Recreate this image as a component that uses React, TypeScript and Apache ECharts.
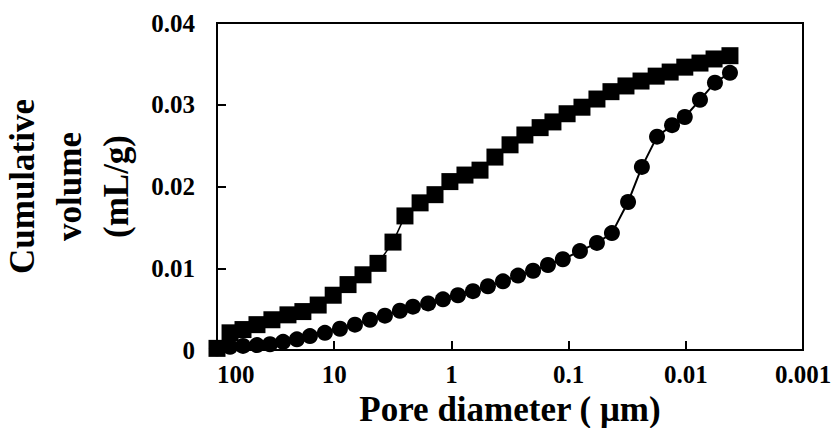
import React, { useEffect, useRef } from "react";
import * as echarts from "echarts";

// Tick labels
const xTickLabels = ["0.001", "0.01", "0.1", "1", "10", "100"];
const yTickLabels = ["0", "0.01", "0.02", "0.03", "0.04"];

// Square series (upper curve)
const sqDiameter = [
  100, 77.4, 60.0, 45.6, 34.0, 24.8, 18.5, 13.7, 10.2, 7.62, 5.68, 4.23, 3.15,
  2.49, 1.85, 1.38, 1.03, 0.766, 0.57, 0.425, 0.316, 0.236, 0.175, 0.136, 0.103,
  0.0769, 0.0573, 0.0435, 0.0324, 0.0241, 0.0179, 0.0136, 0.0102, 0.00757,
  0.00574, 0.0042,
];
const sqVolume = [
  0.0002, 0.0021, 0.0025, 0.0031, 0.0037, 0.0043, 0.0047, 0.0055, 0.0067,
  0.008, 0.0092, 0.0106, 0.0132, 0.0164, 0.018, 0.019, 0.0206, 0.0214, 0.022,
  0.0236, 0.0251, 0.0263, 0.0272, 0.0279, 0.0289, 0.0297, 0.0307, 0.0316,
  0.0323, 0.0329, 0.0335, 0.034, 0.0346, 0.0351, 0.0356, 0.036,
];

// Circle series (lower curve)
const ciDiameter = [
  100, 77.4, 60.0, 45.6, 35.3, 27.3, 20.8, 16.1, 12.0, 8.93, 6.65, 4.95, 3.69,
  2.75, 2.13, 1.58, 1.18, 0.879, 0.655, 0.488, 0.363, 0.27, 0.201, 0.15, 0.112,
  0.08, 0.0573, 0.0427, 0.0311, 0.0237, 0.0176, 0.0131, 0.0102, 0.00757,
  0.00564, 0.0042,
];
const ciVolume = [
  0.0002, 0.0004, 0.0005, 0.0006, 0.0007, 0.001, 0.0013, 0.0017, 0.0021,
  0.0026, 0.0031, 0.0037, 0.0042, 0.0048, 0.0053, 0.0057, 0.0062, 0.0067,
  0.0072, 0.0078, 0.0084, 0.0091, 0.0097, 0.0104, 0.0111, 0.0121, 0.0131,
  0.0143, 0.0181, 0.0224, 0.0261, 0.0275, 0.0285, 0.0306, 0.0327, 0.0339,
];

const FONT = "Liberation Serif";

export default function App() {
  const ref = useRef<HTMLDivElement>(null);

  useEffect(() => {
    document.body.style.margin = "0";
    const chart = echarts.init(ref.current!, null, { renderer: "svg" });
    chart.setOption({
      animation: false,
      backgroundColor: "#ffffff",
      grid: {
        left: 217,
        top: 23,
        right: 30,
        bottom: 78,
        show: true,
        borderColor: "#000",
        borderWidth: 2,
        backgroundColor: "transparent",
        containLabel: false,
        outerBoundsMode: "none",
      },
      xAxis: {
        type: "log",
        logBase: 10,
        min: 0.001,
        max: 100,
        inverse: true,
        name: "Pore diameter ( \u03bcm)",
        nameLocation: "middle",
        nameGap: 36,
        nameTextStyle: {
          fontFamily: FONT,
          fontWeight: "bold",
          fontSize: 35,
          color: "#000",
        },
        axisLine: { show: true, lineStyle: { color: "#000", width: 2 } },
        axisTick: { show: true, inside: true, length: 9, lineStyle: { color: "#000", width: 2 } },
        minorTick: { show: false },
        splitLine: { show: false },
        axisLabel: {
          margin: 12,
          fontFamily: FONT,
          fontWeight: "bold",
          fontSize: 25,
          color: "#000",
          alignMaxLabel: "left",
          formatter: (v: number) => xTickLabels[Math.round(Math.log10(v)) + 3],
        },
      },
      yAxis: {
        type: "value",
        min: 0,
        max: 0.04,
        interval: 0.01,
        name: "Cumulative\nvolume\n(mL/g)",
        nameLocation: "middle",
        nameRotate: 90,
        nameGap: 67,
        nameTextStyle: {
          fontFamily: FONT,
          fontWeight: "bold",
          fontSize: 35,
          lineHeight: 47,
          color: "#000",
        },
        axisLine: { show: true, lineStyle: { color: "#000", width: 2 } },
        axisTick: { show: true, inside: true, length: 9, lineStyle: { color: "#000", width: 2 } },
        splitLine: { show: false },
        axisLabel: {
          margin: 22,
          fontFamily: FONT,
          fontWeight: "bold",
          fontSize: 25,
          color: "#000",
          formatter: (v: number) => yTickLabels[Math.round(v / 0.01)],
        },
      },
      series: [
        {
          type: "line",
          name: "squares",
          data: sqDiameter.map((d, i) => [d, sqVolume[i]]),
          symbol: "rect",
          symbolSize: 17,
          clip: false,
          itemStyle: { color: "#000" },
          lineStyle: { color: "#000", width: 1.5 },
        },
        {
          type: "line",
          name: "circles",
          data: ciDiameter.map((d, i) => [d, ciVolume[i]]),
          symbol: "circle",
          symbolSize: 16,
          clip: false,
          itemStyle: { color: "#000" },
          lineStyle: { color: "#000", width: 2 },
        },
      ],
    });
    return () => chart.dispose();
  }, []);

  return <div ref={ref} style={{ width: 833, height: 428, background: "#fff" }} />;
}
